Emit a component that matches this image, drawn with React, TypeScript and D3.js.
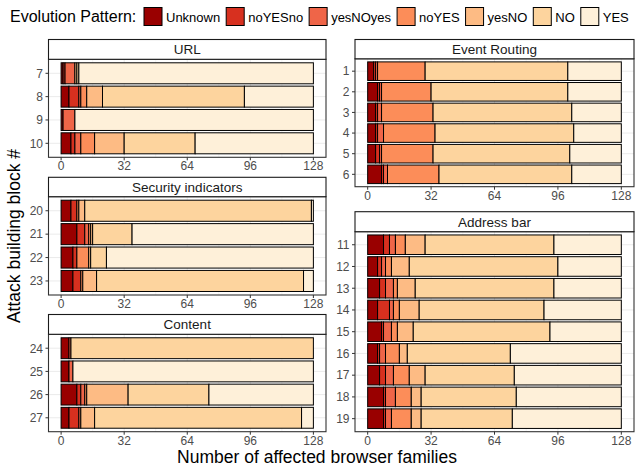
import React from "react";
import * as d3 from "d3";

// evolution patterns, left to right in each bar
const patterns = ["Unknown", "noYESno", "yesNOyes", "noYES", "yesNO", "NO", "YES"];
const patternColors = ["#990000", "#d7301f", "#ef6548", "#fc8d59", "#fdbb84", "#fdd49e", "#fef0d9"];

// attack building blocks 1..27
const blocks = [1, 2, 3, 4, 5, 6, 7, 8, 9, 10, 11, 12, 13, 14, 15, 16, 17, 18, 19, 20, 21, 22, 23, 24, 25, 26, 27];

// number of browser families per pattern, indexed like blocks
const unknown = [3, 5, 4, 4, 4, 7, 1, 4, 1, 5, 8, 5, 6, 5, 7, 5, 6, 8, 8, 5, 8, 6, 6, 4, 4, 8, 4];
const noYESno = [1, 1, 1, 1, 2, 1, 1, 5, 0, 2, 3, 2, 3, 6, 1, 1, 3, 1, 1, 3, 4, 2, 4, 0, 0, 2, 5];
const yesNOyes = [1, 1, 2, 3, 1, 2, 5, 1, 6, 3, 3, 2, 4, 2, 4, 3, 4, 5, 3, 0, 2, 0, 0, 1, 2, 2, 1];
const noYES = [24, 25, 26, 26, 26, 26, 0, 3, 0, 7, 5, 3, 2, 3, 3, 7, 8, 8, 10, 1, 1, 6, 1, 0, 0, 1, 0];
const yesNO = [0, 0, 0, 0, 0, 0, 1, 8, 0, 15, 10, 9, 9, 10, 8, 4, 8, 5, 5, 3, 1, 1, 7, 0, 0, 21, 7];
const no = [72, 69, 70, 70, 69, 67, 1, 72, 0, 36, 65, 75, 70, 63, 69, 52, 45, 48, 46, 115, 20, 8, 105, 123, 0, 41, 105];
const yes = [27, 27, 25, 24, 26, 25, 119, 35, 121, 60, 34, 32, 34, 39, 36, 56, 54, 53, 55, 1, 92, 105, 5, 0, 122, 53, 6];
const seriesValues = [unknown, noYESno, yesNOyes, noYES, yesNO, no, yes];

const panelTitles = ["URL", "Security indicators", "Content", "Event Routing", "Address bar"];
const panelBlocks = [
  [7, 8, 9, 10],
  [20, 21, 22, 23],
  [24, 25, 26, 27],
  [1, 2, 3, 4, 5, 6],
  [11, 12, 13, 14, 15, 16, 17, 18, 19],
];
const xTicks = [0, 32, 64, 96, 128];
const xMinorTicks = [16, 48, 80, 112];

// panel boxes on the page
const panelLayout = [
  { x0: 48.5, x1: 326, top: 39.5, plotTop: 59.3, plotBottom: 157.3 },
  { x0: 48.5, x1: 326, top: 177.3, plotTop: 196.7, plotBottom: 295 },
  { x0: 48.5, x1: 326, top: 314.5, plotTop: 334.3, plotBottom: 431.7 },
  { x0: 355, x1: 634, top: 39.5, plotTop: 58.8, plotBottom: 186.7 },
  { x0: 355, x1: 634, top: 211.7, plotTop: 231.7, plotBottom: 431.7 },
];

const font = "'Liberation Sans', Arial, Helvetica, sans-serif";
const legendFont = 13;

const rows = blocks.map((b, i) => {
  const r: any = { block: b };
  patterns.forEach((p, j) => (r[p] = seriesValues[j][i]));
  return r;
});
const stacked = d3.stack<any>().keys(patterns)(rows);

// legend keys laid out one after another from the measured label widths
function legendPositions() {
  const ctx = document.createElement("canvas").getContext("2d")!;
  ctx.font = legendFont + "px 'Liberation Sans'";
  const out: number[] = [];
  let cx = 144;
  patterns.forEach((p) => {
    out.push(cx);
    cx += 18 + 4 + ctx.measureText(p).width + 6;
  });
  return out;
}

function Panel({ idx }: { idx: number }) {
  const L = panelLayout[idx];
  const ids = panelBlocks[idx];
  const x = d3.scaleLinear().domain([-6.4, 134.4]).range([L.x0, L.x1]);
  const y = d3.scalePoint<number>().domain(ids).range([L.plotTop, L.plotBottom]).padding(0.6);
  const h = y.step() * 0.9;
  return (
    <g>
      <rect x={L.x0} y={L.plotTop} width={L.x1 - L.x0} height={L.plotBottom - L.plotTop} fill="#ffffff" />
      {xMinorTicks.map((t) => (
        <line key={"m" + t} x1={x(t)} x2={x(t)} y1={L.plotTop} y2={L.plotBottom} stroke="#ebebeb" strokeWidth={0.5} />
      ))}
      {xTicks.map((t) => (
        <line key={"g" + t} x1={x(t)} x2={x(t)} y1={L.plotTop} y2={L.plotBottom} stroke="#ebebeb" strokeWidth={1} />
      ))}
      {ids.map((b) => (
        <line key={"h" + b} x1={L.x0} x2={L.x1} y1={y(b)!} y2={y(b)!} stroke="#ebebeb" strokeWidth={1} />
      ))}
      {stacked.map((s, j) =>
        s
          .filter((d) => ids.includes(d.data.block) && d[1] - d[0] > 0)
          .map((d) => (
            <rect
              key={patterns[j] + d.data.block}
              x={x(d[0])}
              y={y(d.data.block)! - h / 2}
              width={x(d[1]) - x(d[0])}
              height={h}
              fill={patternColors[j]}
              stroke="#000000"
              strokeWidth={1}
            />
          ))
      )}
      <rect x={L.x0} y={L.plotTop} width={L.x1 - L.x0} height={L.plotBottom - L.plotTop} fill="none" stroke="#333333" strokeWidth={1.1} />
      <rect x={L.x0} y={L.top} width={L.x1 - L.x0} height={L.plotTop - L.top} fill="#ffffff" stroke="#1a1a1a" strokeWidth={1.1} />
      <text x={(L.x0 + L.x1) / 2} y={(L.top + L.plotTop) / 2 + 4.8} textAnchor="middle" fontSize={13.5} fill="#1a1a1a" fontFamily={font}>
        {panelTitles[idx]}
      </text>
      {xTicks.map((t) => (
        <g key={"t" + t}>
          <line x1={x(t)} x2={x(t)} y1={L.plotBottom} y2={L.plotBottom + 3} stroke="#333333" />
          <text x={x(t)} y={L.plotBottom + 13} textAnchor="middle" fontSize={12} fill="#4d4d4d" fontFamily={font}>
            {t}
          </text>
        </g>
      ))}
      {ids.map((b) => (
        <g key={"y" + b}>
          <line x1={L.x0 - 3} x2={L.x0} y1={y(b)!} y2={y(b)!} stroke="#333333" />
          <text x={L.x0 - 5.5} y={y(b)! + 4.3} textAnchor="end" fontSize={12} fill="#4d4d4d" fontFamily={font}>
            {b}
          </text>
        </g>
      ))}
    </g>
  );
}

export default function App() {
  const legendX = React.useMemo(legendPositions, []);
  return (
    <svg width={635} height={467} style={{ position: "absolute", left: 0, top: 0 }} fontFamily={font}>
      <rect width={635} height={467} fill="#ffffff" />
      <text x={10} y={22} fontSize={16} fill="#000000">Evolution Pattern:</text>
      {patterns.map((p, j) => (
        <g key={p}>
          <rect x={legendX[j]} y={7.5} width={18} height={18} fill={patternColors[j]} stroke="#000000" strokeWidth={1} />
          <text x={legendX[j] + 22} y={21.5} fontSize={legendFont} fill="#000000">{p}</text>
        </g>
      ))}
      {panelTitles.map((_, i) => (
        <Panel key={i} idx={i} />
      ))}
      <text x={317} y={463} textAnchor="middle" fontSize={17.5} fill="#000000">
        Number of affected browser families
      </text>
      <text transform="translate(20,236) rotate(-90)" textAnchor="middle" fontSize={17.5} fill="#000000">
        Attack building block #
      </text>
    </svg>
  );
}
